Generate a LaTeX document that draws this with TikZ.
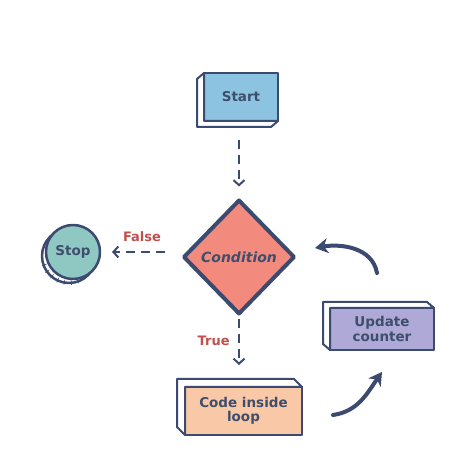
\documentclass[tikz,border=0pt]{standalone}
\usepackage{fontspec}
\setmainfont{DejaVu Sans}
\usetikzlibrary{shapes.geometric,arrows.meta}
\definecolor{ink}{HTML}{3B4A6E}
\definecolor{txt}{HTML}{3E4E6C}
\definecolor{lblred}{HTML}{C1504D}
\definecolor{startblue}{HTML}{8CC3E0}
\definecolor{condred}{HTML}{F28B7D}
\definecolor{stopteal}{HTML}{8FC8C3}
\definecolor{codepeach}{HTML}{F9C9A7}
\definecolor{updlilac}{HTML}{AEA9D6}
\tikzset{
  box/.style={draw=ink, line width=2.5pt, line join=round, text=txt, align=center,
    inner sep=0pt, outer sep=0pt, font=\fontsize{13.5}{14.5}\selectfont\bfseries},
  side/.style={draw=ink, fill=white, line width=2pt, line join=round},
  hatch/.style={draw=ink, line width=0.6pt},
  dasharrow/.style={draw=ink, line width=2pt, dash pattern=on 9pt off 6pt,
    -{Straight Barb[length=5pt,width=11pt,line width=2pt]}},
  bigarrow/.style={draw=ink, line width=4pt, line cap=round,
    -{Stealth[length=13pt,width=15pt,inset=4pt]}},
  lbl/.style={text=lblred, font=\fontsize{13}{14}\selectfont\bfseries},
}

\begin{document}
\begin{tikzpicture}[x=1pt,y=1pt]
  \useasboundingbox (0,0) rectangle (474,468);

  % boxes
  \node[box, fill=startblue, minimum width=74, minimum height=48] (start) at (241,371) {Start};
  \draw[side] (start.north west) -- ++(-7,-6) -- ([shift={(-7,-6)}]start.south west)
    -- ([shift={(-7,-6)}]start.south east) -- (start.south east) -- (start.south west) -- cycle;

  \node[box, diamond, fill=condred, line width=4pt, minimum width=110, minimum height=113,
    font=\fontsize{14}{16}\selectfont\bfseries\itshape] (cond) at (239,211) {Condition};

  \coordinate (stopc) at (73,216);
  \draw[side, line width=2.5pt] ([shift={(-4,-4)}]stopc) circle (27);
  \foreach \a in {200,215,...,290}
    \draw[hatch] ([shift={(-4,-4)}]stopc) ++(\a:24) -- ++(\a:5);
  \node[box, circle, fill=stopteal, minimum size=54] (stop) at (stopc) {Stop};

  \node[box, fill=codepeach, minimum width=117, minimum height=48] (code) at (243.5,57) {Code inside\\loop};
  \draw[side] (code.south west) -- ++(-8,8) -- ([shift={(-8,8)}]code.north west)
    -- ([shift={(-8,8)}]code.north east) -- (code.north east) -- (code.north west) -- cycle;

  \node[box, fill=updlilac, minimum width=104, minimum height=42] (upd) at (382,139) {Update\\counter};
  \draw[side] (upd.south west) -- ++(-7,6) -- ([shift={(-7,6)}]upd.north west)
    -- ([shift={(-7,6)}]upd.north east) -- (upd.north east) -- (upd.north west) -- cycle;

  % connectors
  \draw[dasharrow, shorten <=19pt, shorten >=14pt] (cond.north |- start.south) -- (cond.north);
  \draw[dasharrow, shorten <=19pt, shorten >=12pt] (stop.east -| cond.west) -- (stop.east)
    node[lbl, midway, above=6pt] (false) {False};
  \draw[dasharrow, shorten <=6pt, shorten >=22pt] (cond.south) -- (cond.south |- code.north)
    node[lbl, pos=0.37, left=5pt] (true) {True};
  \draw[bigarrow] ([shift={(31,-4)}]code.east) to[out=8,in=235] ([shift={(0,-22)}]upd.south);
  \draw[bigarrow] ([shift={(-5,35)}]upd.north) to[out=100,in=10] ([shift={(21,9)}]cond.east);
\end{tikzpicture}
\end{document}
